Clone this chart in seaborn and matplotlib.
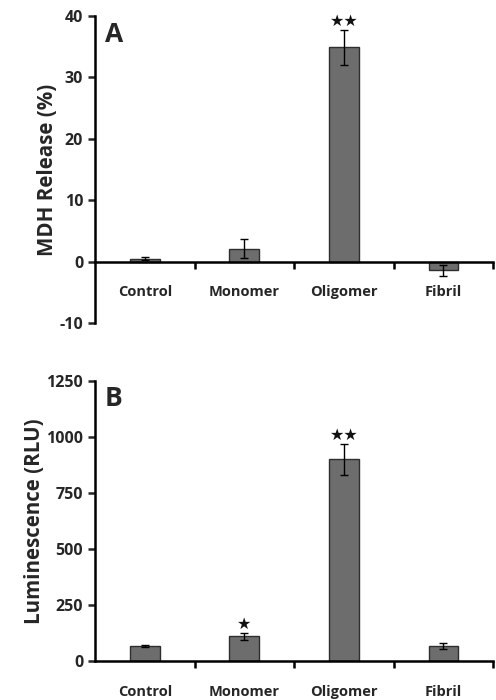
import numpy as np
import pandas as pd
from matplotlib import pyplot as plt
import seaborn as sns

sns.set_theme(style="white")
plt.rcParams['font.family'] = ['Open Sans', 'DejaVu Sans']
plt.rcParams['font.weight'] = 'bold'
plt.rcParams['axes.unicode_minus'] = False

# data
groups = ['Control', 'Monomer', 'Oligomer', 'Fibril']
mdh_release = [0.5, 2.1, 34.9, -1.4]
mdh_err = [0.3, 1.5, 2.8, 0.9]
mdh_stars = ['', '', '★★', '']
lum = [68, 110, 900, 68]
lum_err = [5, 15, 68, 14]
lum_stars = ['', '★', '★★', '']

bar_color = '#6d6d6d'
edge_color = '#2e2e2e'

fig = plt.figure(figsize=(4.96, 7.0), dpi=100)
axA = fig.add_axes([0.1915, 0.5386, 0.803, 0.4385])
axB = fig.add_axes([0.1915, 0.0557, 0.803, 0.400])


def draw_panel(ax, vals, errs, stars, ylabel, letter, ylim, yticks, star_gap):
    df = pd.DataFrame({'group': groups, 'value': vals})
    sns.barplot(data=df, x='group', y='value', ax=ax, color=bar_color,
                width=0.3, edgecolor=edge_color, linewidth=1.0, saturation=1)
    ax.errorbar(np.arange(len(groups)), vals, yerr=errs, fmt='none',
                ecolor='black', elinewidth=1.0, capsize=3, capthick=1.0)
    for i, s in enumerate(stars):
        if s:
            top = vals[i] + errs[i]
            ax.text(i, top + star_gap, s, ha='center', va='center',
                    fontsize=11.5, color='#111111', family=['DejaVu Sans'])
    ax.set_xlim(-0.5, 3.5)
    ax.set_ylim(*ylim)
    ax.set_yticks(yticks)
    ax.set_ylabel(ylabel, fontsize=14.8, fontweight='bold', labelpad=1)
    ax.set_xlabel('')
    for side in ['top', 'right']:
        ax.spines[side].set_visible(False)
    for side in ['left', 'bottom']:
        ax.spines[side].set_linewidth(1.8)
        ax.spines[side].set_color('black')
    ax.spines['bottom'].set_position(('data', 0))
    ax.tick_params(axis='x', which='major', length=0, pad=17, labelsize=10.5)
    ax.set_xticks([0.5, 1.5, 2.5, 3.5], minor=True)
    ax.tick_params(axis='x', which='minor', length=5, width=1.8,
                   direction='out', color='black', bottom=True)
    ax.tick_params(axis='y', length=5, width=1.8, direction='out',
                   labelsize=11.5, left=True)
    for lab in ax.get_xticklabels() + ax.get_yticklabels():
        lab.set_fontweight('bold')
    ax.text(0.025, 0.985, letter, transform=ax.transAxes, fontsize=19,
            fontweight='bold', va='top', ha='left')


draw_panel(axA, mdh_release, mdh_err, mdh_stars, 'MDH Release (%)', 'A',
           (-10, 40), [-10, 0, 10, 20, 30, 40], 1.4)
draw_panel(axB, lum, lum_err, lum_stars, 'Luminescence (RLU)', 'B',
           (0, 1250), [0, 250, 500, 750, 1000, 1250], 40)

fig.savefig('out.png', dpi=100)
